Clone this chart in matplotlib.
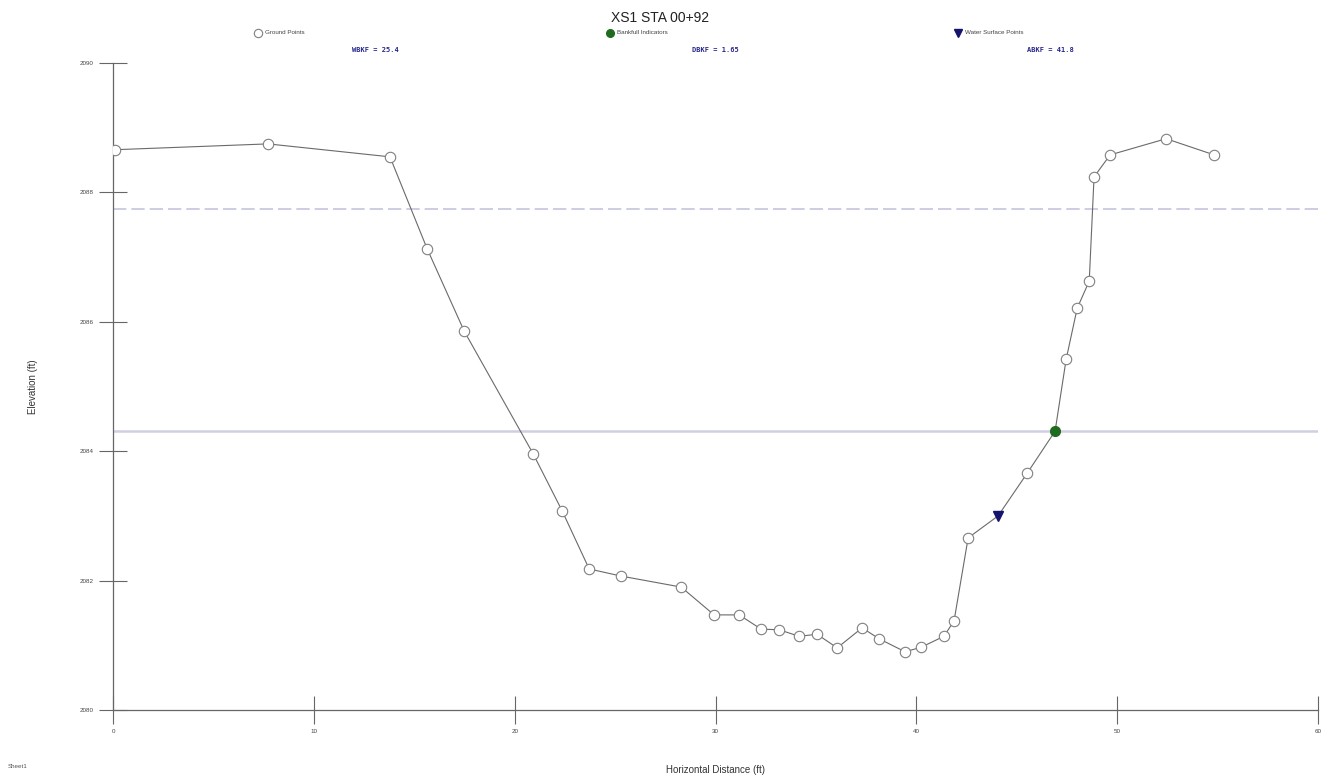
import matplotlib.pyplot as plt
from matplotlib.lines import Line2D

plt.rcParams['font.family'] = ['Liberation Sans', 'DejaVu Sans']

# Cross-section survey, in survey order (station ft, elevation ft)
estacao = [0.1, 7.72, 13.79, 15.64, 17.48, 20.92, 22.36, 23.71, 25.30, 28.29,
           29.93, 31.18, 32.27, 33.17, 34.16, 35.06, 36.06, 37.30, 38.15, 39.44,
           40.24, 41.38, 41.88, 42.58, 44.07, 45.52, 46.91, 47.46, 48.01, 48.61,
           48.85, 49.65, 52.44, 54.83]
elevacao = [2088.66, 2088.75, 2088.55, 2087.13, 2085.86, 2083.96, 2083.08, 2082.18,
            2082.07, 2081.90, 2081.47, 2081.47, 2081.25, 2081.24, 2081.14, 2081.17,
            2080.96, 2081.27, 2081.10, 2080.90, 2080.97, 2081.14, 2081.38, 2082.66,
            2083.00, 2083.66, 2084.31, 2085.42, 2086.21, 2086.63, 2088.24, 2088.58,
            2088.83, 2088.58]
# G = ground point, B = bankfull indicator, W = water surface point
tipo = ['G'] * 24 + ['W', 'G', 'B'] + ['G'] * 7

elev_bankfull = 2084.31
elev_inundacao = 2087.74

titulo = 'XS1 STA 00+92'
legendas = ['Ground Points', 'Bankfull Indicators', 'Water Surface Points']
resumo = ['WBKF = 25.4', 'DBKF = 1.65', 'ABKF = 41.8']

xticks = [0, 10, 20, 30, 40, 50, 60]
yticks = [2080, 2082, 2084, 2086, 2088, 2090]

fig = plt.figure(figsize=(13.25, 7.78), dpi=100)
ax = fig.add_axes([0.0853, 0.0874, 0.9094, 0.8316])

ax.axhline(elev_inundacao, color='#c4c4de', lw=1.2, ls=(0, (8, 3)), zorder=1)
ax.axhline(elev_bankfull, color='#cfcfe4', lw=1.8, zorder=1)

ax.plot(estacao, elevacao, color='#6a6a6a', lw=0.8, zorder=2)

gx = [x for x, t in zip(estacao, tipo) if t == 'G']
gy = [y for y, t in zip(elevacao, tipo) if t == 'G']
bx = [x for x, t in zip(estacao, tipo) if t == 'B']
by = [y for y, t in zip(elevacao, tipo) if t == 'B']
wx = [x for x, t in zip(estacao, tipo) if t == 'W']
wy = [y for y, t in zip(elevacao, tipo) if t == 'W']

ax.plot(gx, gy, ls='none', marker='o', ms=7.5, mfc='white', mec='#808080', mew=0.8, zorder=3)
ax.plot(bx, by, ls='none', marker='o', ms=7, mfc='#1f6b1f', mec='#1f6b1f', zorder=4)
ax.plot(wx, wy, ls='none', marker='v', ms=7, mfc='#14146e', mec='#14146e', zorder=4)

ax.set_xlim(0, 60)
ax.set_ylim(2080, 2090)
ax.set_xticks(xticks)
ax.set_yticks(yticks)
ax.tick_params(direction='inout', length=20, width=0.8, color='#666666',
               labelsize=4.5, labelcolor='#444444', pad=4)
for lado in ['top', 'right']:
    ax.spines[lado].set_visible(False)
for lado in ['left', 'bottom']:
    ax.spines[lado].set_color('#666666')
    ax.spines[lado].set_linewidth(0.9)

ax.set_xlabel('Horizontal Distance (ft)', fontsize=7, color='#333333', labelpad=22)
ax.set_ylabel('Elevation (ft)', fontsize=7, color='#333333', labelpad=30)

# Cabeçalho: título, legenda e resumo do bankfull
fig.text(0.498, 0.977, titulo, ha='center', va='center', fontsize=10, color='#222222')

marcadores = [dict(marker='o', mfc='white', mec='#808080', ms=6, mew=0.8),
              dict(marker='o', mfc='#1f6b1f', mec='#1f6b1f', ms=5.5),
              dict(marker='v', mfc='#14146e', mec='#14146e', ms=6)]
pos_leg = [258, 610, 958]
for px, texto, estilo in zip(pos_leg, legendas, marcadores):
    fig.add_artist(Line2D([px / 1325], [1 - 33 / 778], ls='none',
                          transform=fig.transFigure, **estilo))
    fig.text((px + 7) / 1325, 1 - 33 / 778, texto, ha='left', va='center',
             fontsize=4.5, color='#444444')

pos_res = [375, 715, 1050]
for px, texto in zip(pos_res, resumo):
    fig.text(px / 1325, 1 - 50 / 778, texto, ha='center', va='center', fontsize=5,
             family='DejaVu Sans Mono', fontweight='bold', color='#28288c')

fig.text(0.006, 0.012, 'Sheet1', fontsize=4.5, color='#555555', ha='left', va='bottom')

plt.savefig('out.png', dpi=100)
